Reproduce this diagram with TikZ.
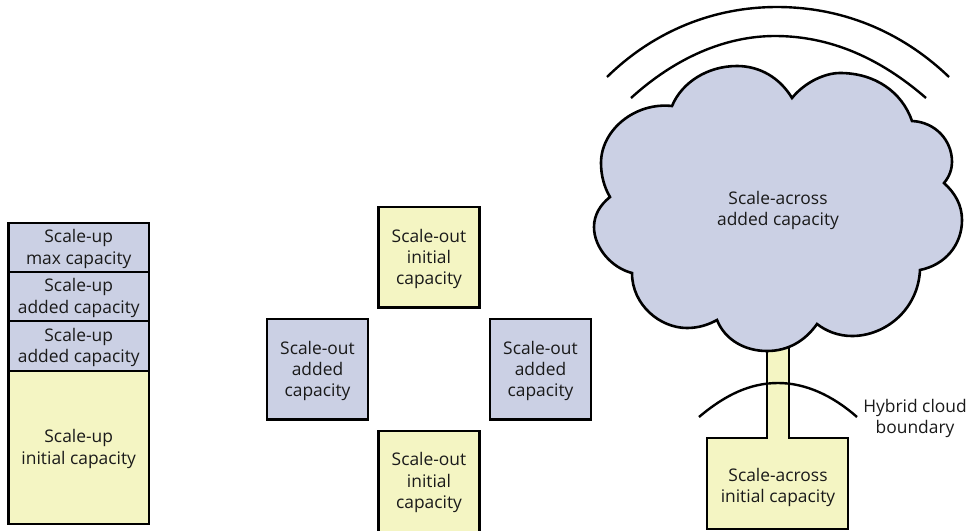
\documentclass[tikz,border=0pt]{standalone}
\usepackage{fontspec}
\setmainfont{Open Sans}
\usetikzlibrary{calc}
\definecolor{cblue}{HTML}{CBD0E4}
\definecolor{cyell}{HTML}{F4F5C3}
\definecolor{ctext}{HTML}{1A1A1A}
\tikzset{
  box/.style={draw=black,line width=2.8pt},
  bluebox/.style={box,fill=cblue},
  yellbox/.style={box,fill=cyell},
  lbl/.style={align=center,text=ctext,inner sep=0pt,yshift=-1.6pt,font=\fontsize{17.4}{21.3}\selectfont},
  arcline/.style={draw=black,line width=2.4pt}
}
\newcommand{\rbox}[5]{\path[#1] (#2) rectangle (#3);\node[lbl] (#4) at ($(#2)!0.5!(#3)$) {#5};}
\begin{document}
\begin{tikzpicture}[x=1pt,y=-1pt]
\useasboundingbox (0,0) rectangle (971,530);
% left stack
\rbox{bluebox}{8.5,223}{149,272}{u1}{Scale-up\\max capacity}
\rbox{bluebox}{8.5,272}{149,321}{u2}{Scale-up\\added capacity}
\rbox{bluebox}{8.5,321}{149,371}{u3}{Scale-up\\added capacity}
\rbox{yellbox}{8.5,371}{149,524}{u4}{Scale-up\\initial capacity}
% middle
\rbox{yellbox}{378.5,207}{479.5,307.5}{o1}{Scale-out\\initial\\capacity}
\rbox{bluebox}{267,319}{368,419.5}{o2}{Scale-out\\added\\capacity}
\rbox{bluebox}{490,319}{591,419.5}{o3}{Scale-out\\added\\capacity}
\rbox{yellbox}{378.5,431}{479.5,540}{o4}{}
\node[lbl] (o4t) at (429,481) {Scale-out\\initial\\capacity};
% stem and box
\path[yellbox] (767,340) -- (767,438) -- (707,438) -- (707,529) -- (848,529) -- (848,438) -- (789,438) -- (789,340) -- cycle;
\node[lbl] (a2) at (778,486) {Scale-across\\initial capacity};
% cloud
\path[box,fill=cblue,line width=2.6pt]
 (792,98) .. controls (805,82) and (825,73) .. (840,73)
 .. controls (875,73) and (902,92) .. (912,121)
 .. controls (935,122) and (952,140) .. (952,162)
 .. controls (952,168) and (950,176) .. (944,183)
 .. controls (955,193) and (962,205) .. (962,220)
 .. controls (962,245) and (945,265) .. (920,270)
 .. controls (918,310) and (885,336) .. (852,336)
 .. controls (838,336) and (826,331) .. (817,324)
 .. controls (805,341) and (788,351) .. (767,351)
 .. controls (745,351) and (725,340) .. (717,320)
 .. controls (708,325) and (698,328) .. (687,328)
 .. controls (660,328) and (632,305) .. (632,273)
 .. controls (612,268) and (594,248) .. (594,227)
 .. controls (594,215) and (600,205) .. (610,197)
 .. controls (604,187) and (601,175) .. (601,163)
 .. controls (601,130) and (635,102) .. (672,106)
 .. controls (682,82) and (708,66) .. (737,66)
 .. controls (760,66) and (780,78) .. (792,98) -- cycle;
\node[lbl] (a1) at (778,209) {Scale-across\\added capacity};
% arcs
\draw[arcline] (607,77) .. controls (655,30) and (715,7) .. (777,7) .. controls (840,7) and (900,30) .. (949,77);
\draw[arcline] (631,98) .. controls (675,58) and (725,36) .. (775,36) .. controls (830,36) and (880,58) .. (926,98);
\draw[arcline] (699,417) .. controls (725,395) and (750,383) .. (778,383) .. controls (805,383) and (832,395) .. (857,417);
\node[lbl] (hb) at (915,417) {Hybrid cloud\\boundary};
\end{tikzpicture}
\end{document}
